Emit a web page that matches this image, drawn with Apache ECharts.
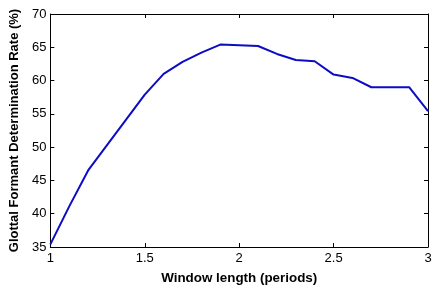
<!DOCTYPE html>
<html>
<head>
<meta charset="utf-8">
<script src="https://cdn.jsdelivr.net/npm/echarts@6/dist/echarts.min.js"></script>
<style>html,body{margin:0;padding:0;background:#fff;}#c{width:438px;height:290px;}</style>
</head>
<body>
<div id="c"></div>
<script>
const windowLength = [1.0,1.1,1.2,1.3,1.4,1.5,1.6,1.7,1.8,1.9,2.0,2.1,2.2,2.3,2.4,2.5,2.6,2.7,2.8,2.9,3.0];
const rate = [35.4,41.1,46.5,50.3,54.1,57.9,61.0,62.8,64.2,65.4,65.3,65.2,64.0,63.1,62.9,60.9,60.4,59.0,59.0,59.0,55.4];
const xTitle = 'Window length (periods)';
const yTitle = 'Glottal Formant Determination Rate (%)';

const chart = echarts.init(document.getElementById('c'), null, {renderer:'canvas'});
const font = 'Arial, "Liberation Sans", sans-serif';
const lineStyle = {color:'#000', width:1};
const tick = {show:true, inside:true, length:4, lineStyle:{color:'#000'}};
chart.setOption({
  animation:false,
  backgroundColor:'#fff',
  grid:{left:46, top:14, right:10, bottom:36, containLabel:false},
  xAxis:[{
    type:'value', min:1, max:3, interval:0.5, position:'bottom',
    axisLine:{show:true, onZero:false, lineStyle}, axisTick:tick, splitLine:{show:false},
    axisLabel:{color:'#000', fontFamily:font, fontSize:13, margin:5},
    name:xTitle, nameLocation:'middle', nameGap:25,
    nameTextStyle:{color:'#000', fontFamily:font, fontSize:13.4, fontWeight:'bold'}
  },{
    type:'value', min:1, max:3, interval:0.5, position:'top',
    axisLine:{show:true, onZero:false, lineStyle}, axisTick:tick, splitLine:{show:false},
    axisLabel:{show:false}
  }],
  yAxis:[{
    type:'value', min:35, max:70, interval:5, position:'left',
    axisLine:{show:true, onZero:false, lineStyle}, axisTick:tick, splitLine:{show:false},
    axisLabel:{color:'#000', fontFamily:font, fontSize:13, margin:4},
    name:yTitle, nameLocation:'middle', nameGap:26,
    nameTextStyle:{color:'#000', fontFamily:font, fontSize:13, fontWeight:'bold'}
  },{
    type:'value', min:35, max:70, interval:5, position:'right',
    axisLine:{show:true, onZero:false, lineStyle}, axisTick:tick, splitLine:{show:false},
    axisLabel:{show:false}
  }],
  series:[{
    type:'line', xAxisIndex:0, yAxisIndex:0,
    data: windowLength.map((x,i)=>[x, rate[i]]),
    showSymbol:false, symbol:'none',
    lineStyle:{color:'#0c0cc4', width:2},
    clip:false
  }]
});
</script>
</body>
</html>
